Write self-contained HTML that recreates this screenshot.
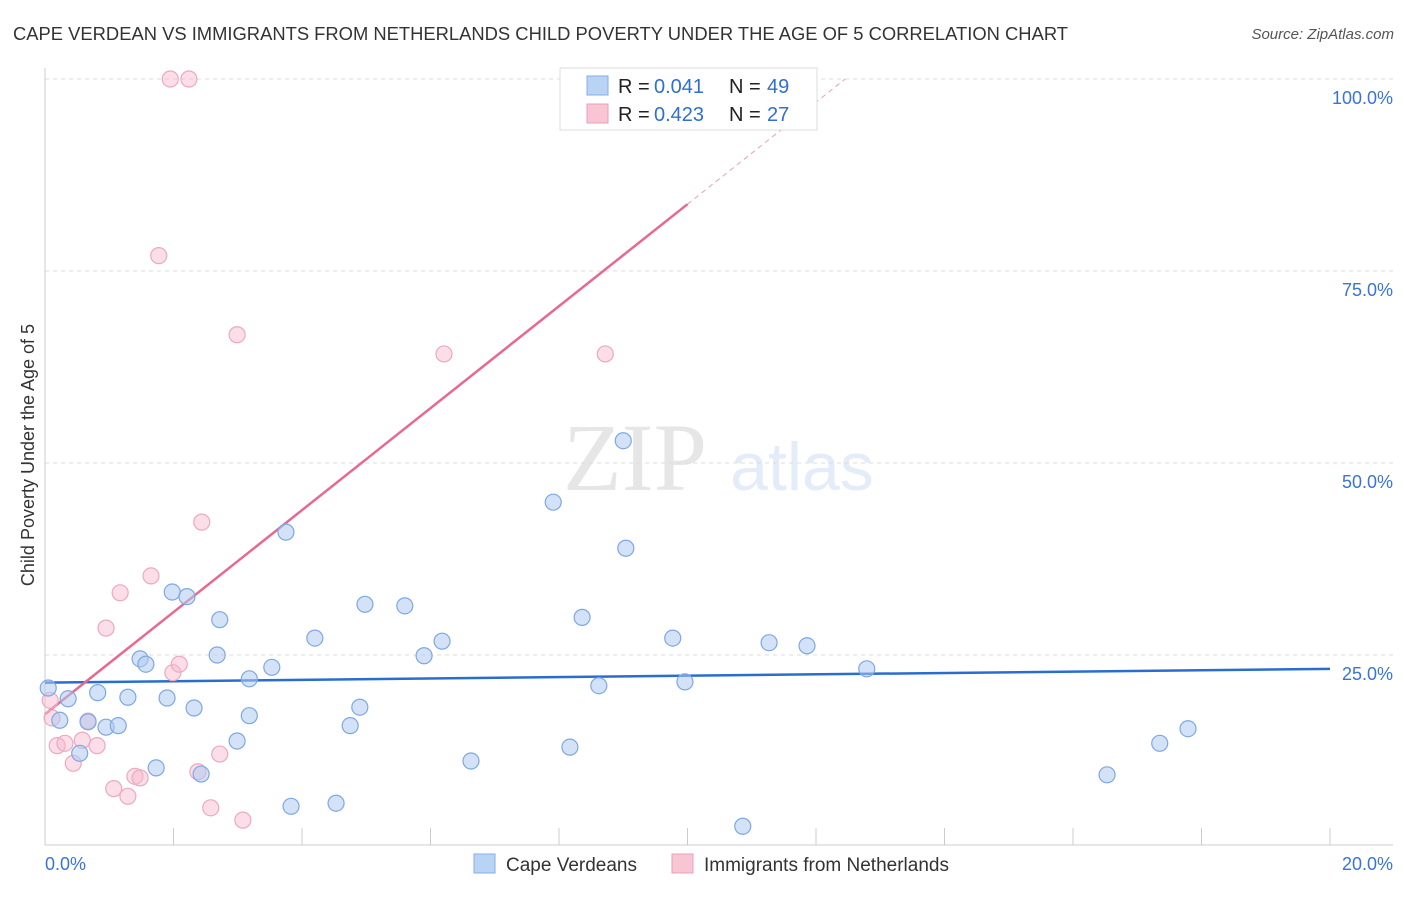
<!DOCTYPE html>
<html><head><meta charset="utf-8"><style>
body{margin:0;background:#fff;font-family:"Liberation Sans",sans-serif;}
svg text{font-family:"Liberation Sans",sans-serif;}
</style></head><body>
<svg id="chart" width="1406" height="892">
<text x="13" y="40" font-size="18" fill="#333" textLength="1055" lengthAdjust="spacingAndGlyphs">CAPE VERDEAN VS IMMIGRANTS FROM NETHERLANDS CHILD POVERTY UNDER THE AGE OF 5 CORRELATION CHART</text>
<text x="1394" y="39" font-size="15" fill="#555" text-anchor="end" font-style="italic">Source: ZipAtlas.com</text>
<text x="34" y="455" font-size="18" fill="#333" text-anchor="middle" transform="rotate(-90 34 455)">Child Poverty Under the Age of 5</text>
<g opacity="0.18">
<text x="635" y="490" font-size="96" fill="#777" text-anchor="middle" style="font-family:'Liberation Serif',serif">ZIP</text>
<text x="802" y="490" font-size="68" fill="#6e9be0" text-anchor="middle">atlas</text>
</g>
<g id="grid"></g><g id="axes"></g><g id="lines"></g><g id="pts"></g>
<g>
<rect x="560" y="68" width="257" height="62" fill="#fff" stroke="#ddd"/>
<rect x="587" y="76" width="21" height="19" fill="#b9d3f4" stroke="#86aee6"/>
<rect x="587" y="104" width="21" height="19" fill="#f8c5d5" stroke="#eba0b8"/>
<text x="618" y="93" font-size="20" fill="#222">R =</text>
<text x="654" y="93" font-size="20" fill="#2f6fd1">0.041</text>
<text x="729" y="93" font-size="20" fill="#222">N =</text>
<text x="767" y="93" font-size="20" fill="#2f6fd1">49</text>
<text x="618" y="121" font-size="20" fill="#222">R =</text>
<text x="654" y="121" font-size="20" fill="#2f6fd1">0.423</text>
<text x="729" y="121" font-size="20" fill="#222">N =</text>
<text x="767" y="121" font-size="20" fill="#2f6fd1">27</text>
</g>
<g>
<rect x="474" y="854" width="21" height="19" fill="#b9d3f4" stroke="#86aee6"/>
<text x="506" y="871" font-size="19" fill="#333">Cape Verdeans</text>
<rect x="672" y="854" width="21" height="19" fill="#f8c5d5" stroke="#eba0b8"/>
<text x="704" y="871" font-size="19" fill="#333">Immigrants from Netherlands</text>
</g>
</svg>
<script>
const yTicks=[25,50,75,100];
const yTickLabels=["25.0%","50.0%","75.0%","100.0%"];
const xTickLabels=["0.0%","20.0%"];
const blueX=[0.05,0.36,0.23,0.54,0.67,0.82,0.95,1.14,1.29,1.48,1.57,1.73,1.90,1.98,2.21,2.32,2.43,2.68,2.72,2.99,3.18,3.18,3.53,3.75,3.83,4.20,4.53,4.75,4.90,4.98,5.60,5.90,6.18,6.63,7.91,8.17,8.36,8.62,9.00,9.04,9.77,9.96,10.86,11.27,11.86,12.79,16.53,17.35,17.79];
const blueY=[20.7,19.3,16.5,12.2,16.3,20.1,15.6,15.8,19.5,24.5,23.8,10.3,19.4,33.2,32.6,18.1,9.5,25.0,29.6,13.8,21.9,17.1,23.4,41.0,5.3,27.2,5.7,15.8,18.2,31.6,31.4,24.9,26.8,11.2,44.9,13.0,29.9,21.0,52.9,38.9,27.2,21.5,2.7,26.6,26.2,23.2,9.4,13.5,15.4];
const pinkX=[0.08,0.11,0.19,0.31,0.44,0.67,0.58,0.81,0.95,1.07,1.17,1.29,1.40,1.48,1.65,1.77,1.95,1.99,2.09,2.24,2.38,2.44,2.58,2.72,2.99,3.08,6.21,8.72];
const pinkY=[19.1,16.8,13.2,13.5,10.9,16.4,13.9,13.2,28.5,7.6,33.1,6.6,9.2,9.0,35.3,77.0,100,22.7,23.8,100,9.8,42.3,5.1,12.1,66.7,3.5,64.2,64.2];
const blueTrend=[21.4,23.2];
const pinkTrend=[17.3,6.64];
const NS="http://www.w3.org/2000/svg";
const X=v=>45+v*64.25, Y=v=>847-v*7.68;
function mk(tag,attrs,parent){const e=document.createElementNS(NS,tag);for(const k in attrs)e.setAttribute(k,attrs[k]);document.getElementById(parent).appendChild(e);return e;}
yTicks.forEach((t,i)=>{
 const g=mk('line',{x1:45,x2:1393,y1:Y(t),y2:Y(t),stroke:'#ddd','stroke-dasharray':'4,4'},'grid');
 
 
 const l=mk('text',{x:1393,y:Y(t)+25,'font-size':18,fill:'#3a74d4','text-anchor':'end'},'axes');l.textContent=yTickLabels[i];
 
 
});
const ax=mk('line',{x1:45,x2:1393,y1:845,y2:845,stroke:'#ccc'},'axes');


const ay=mk('line',{x1:45,x2:45,y1:68,y2:845,stroke:'#ccc'},'axes');


for(let i=0;i<=10;i++){const t=mk('line',{x1:X(i*2),x2:X(i*2),y1:828,y2:845,stroke:'#ccc'},'axes');
 
 }
[[0,'start',45],[20,'end',1393]].forEach((d,i)=>{const t=mk('text',{x:d[2],y:870,'font-size':18,fill:'#3a74d4','text-anchor':d[1]},'axes');t.textContent=xTickLabels[i];
 
 });
const bl=mk('line',{x1:X(0),y1:Y(blueTrend[0]),x2:X(20),y2:Y(blueTrend[1]),stroke:'#2a6dd1','stroke-width':2.5},'lines');


const pl=mk('line',{x1:X(0),y1:Y(pinkTrend[0]),x2:X(10),y2:Y(pinkTrend[0]+pinkTrend[1]*10),stroke:'#e8698f','stroke-width':2.5},'lines');


const xe=(100-pinkTrend[0])/pinkTrend[1];
const pd=mk('line',{x1:X(10),y1:Y(pinkTrend[0]+pinkTrend[1]*10),x2:X(xe),y2:Y(100),stroke:'#e8a0b5','stroke-width':1,'stroke-dasharray':'5,4'},'lines');


pinkX.forEach((x,i)=>{const c=mk('circle',{cx:X(x),cy:Y(pinkY[i]),r:8,fill:'rgba(246,182,203,0.45)',stroke:'#eda9be','stroke-width':1.2},'pts');
 
 });
blueX.forEach((x,i)=>{const c=mk('circle',{cx:X(x),cy:Y(blueY[i]),r:8,fill:'rgba(174,203,240,0.55)',stroke:'#7ea8e2','stroke-width':1.2},'pts');
 
 });
</script>
</body></html>
